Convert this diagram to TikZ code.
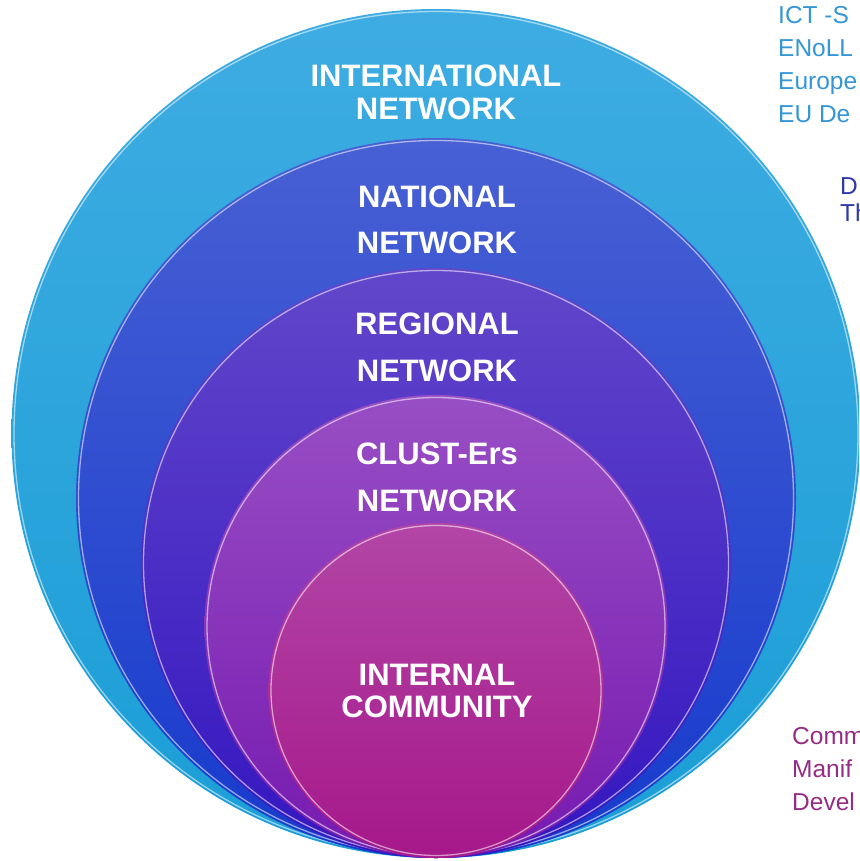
\documentclass[tikz,border=0pt]{standalone}
\usepackage{fontspec}
\setmainfont{Liberation Sans}

\definecolor{intlTop}{RGB}{62,172,226}
\definecolor{intlBot}{RGB}{26,158,214}
\definecolor{natTop}{RGB}{72,96,212}
\definecolor{natBot}{RGB}{22,58,204}
\definecolor{regTop}{RGB}{98,70,202}
\definecolor{regBot}{RGB}{52,22,192}
\definecolor{clustTop}{RGB}{152,78,196}
\definecolor{clustBot}{RGB}{118,26,176}
\definecolor{commTop}{RGB}{178,70,166}
\definecolor{commBot}{RGB}{166,24,138}
\definecolor{sideBlue}{RGB}{52,150,214}
\definecolor{sideNavy}{RGB}{46,56,168}
\definecolor{sidePurple}{RGB}{150,44,132}

\begin{document}
\begin{tikzpicture}[x=1pt, y=-1pt]
        \tikzset{
            rim/.style={draw=white, draw opacity=0.55, line width=1.3pt},
            ringLabel/.style={
                text=white,
                font=\bfseries\fontsize{31}{32.5}\selectfont,
                align=center,
                inner sep=0pt
            },
            sideText/.style={
                font=\fontsize{24.5}{33}\selectfont,
                align=left,
                inner sep=0pt,
                anchor=north west
            }
        }

        \useasboundingbox (0,0) rectangle (859,861);
        \clip (0,0) rectangle (859,861);

        % rings, outside in, all touching at the bottom
        \shade[top color=intlTop, bottom color=intlBot] (436,433.5) circle (424.5pt);
        \draw[rim] (436,433.5) circle (422pt);
        \shade[top color=natTop, bottom color=natBot] (436,498) circle (360pt);
        \draw[rim] (436,498) circle (357.5pt);
        \shade[top color=regTop, bottom color=regBot] (436,563) circle (295pt);
        \draw[rim] (436,563) circle (292.5pt);
        \shade[top color=clustTop, bottom color=clustBot] (436,626.5) circle (231.5pt);
        \draw[rim] (436,626.5) circle (229pt);
        \shade[top color=commTop, bottom color=commBot] (436,690.5) circle (167.5pt);
        \draw[rim] (436,690.5) circle (165pt);

        \node[ringLabel] (intlLabel) at (436,92.5) {INTERNATIONAL\\NETWORK};
        \node[ringLabel] (natLabel) at (437,220) {NATIONAL\\[14pt]NETWORK};
        \node[ringLabel] (regLabel) at (437,347.5) {REGIONAL\\[14pt]NETWORK};
        \node[ringLabel] (clustLabel) at (437,477.5) {CLUST-Ers\\[14pt]NETWORK};
        \node[ringLabel] (commLabel) at (437,691) {INTERNAL\\COMMUNITY};

        % notes at the right edge
        \node[sideText, text=sideBlue] (intlNote) at (778,6) {ICT -S\\ENoLL\\Europe\\EU De};
        \node[sideText, text=sideNavy, font=\fontsize{24.5}{27.5}\selectfont] (natNote) at (840,177) {D\\Th};
        \node[sideText, text=sidePurple] (commNote) at (792,727) {Comm\\Manif\\Devel};
    \end{tikzpicture}
\end{document}
